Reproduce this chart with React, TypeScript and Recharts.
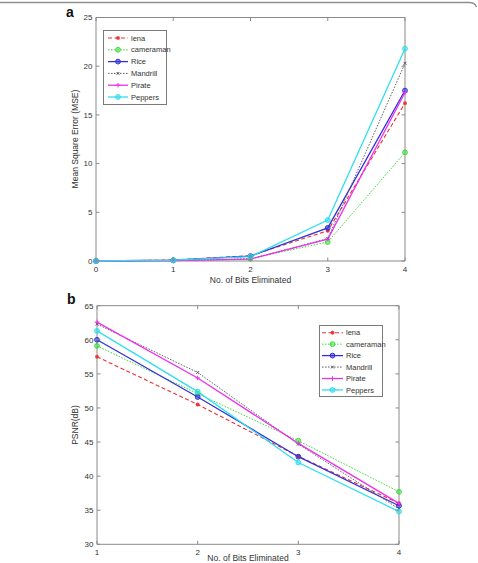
import React from 'react';
import { LineChart, Line, XAxis, YAxis, ReferenceArea, Legend } from 'recharts';

// (a) mean square error against number of eliminated bits
const bitsA = [0, 1, 2, 3, 4];
const mseLena = [0, 0.1, 0.55, 3.1, 16.2];
const mseCameraman = [0, 0.05, 0.25, 1.95, 11.15];
const mseRice = [0, 0.08, 0.5, 3.4, 17.5];
const mseMandrill = [0, 0.03, 0.2, 2.3, 20.3];
const msePirate = [0, 0.03, 0.2, 2.25, 17.3];
const msePeppers = [0, 0.08, 0.45, 4.2, 21.8];
const mseTicks = [0, 5, 10, 15, 20, 25];

// (b) PSNR against number of eliminated bits
const bitsB = [1, 2, 3, 4];
const psnrLena = [57.5, 50.5, 42.9, 36.0];
const psnrCameraman = [59.1, 52.1, 45.2, 37.7];
const psnrRice = [60.0, 51.6, 42.85, 35.65];
const psnrMandrill = [62.3, 55.2, 44.7, 35.2];
const psnrPirate = [62.6, 54.4, 44.8, 36.0];
const psnrPeppers = [61.3, 52.4, 42.0, 34.8];
const psnrTicks = [30, 35, 40, 45, 50, 55, 60, 65];

type Shape = 'star' | 'circle' | 'x' | 'plus';
type Style = { key: string; name: string; color: string; dash?: string; width: number; marker: Shape };

const STYLES: Style[] = [
  { key: 'lena', name: 'lena', color: '#ee3030', dash: '4 2.5', width: 1.1, marker: 'star' },
  { key: 'cameraman', name: 'cameraman', color: '#3fdc3f', dash: '1.6 1.4', width: 1.0, marker: 'circle' },
  { key: 'rice', name: 'Rice', color: '#3030dc', width: 1.3, marker: 'circle' },
  { key: 'mandrill', name: 'Mandrill', color: '#555555', dash: '1.6 1.4', width: 0.9, marker: 'x' },
  { key: 'pirate', name: 'Pirate', color: '#ee30ee', width: 1.3, marker: 'plus' },
  { key: 'peppers', name: 'Peppers', color: '#30def0', width: 1.3, marker: 'circle' },
];

function buildRows(xs: number[], cols: number[][]) {
  return xs.map((b, i) => {
    const row: Record<string, number> = { bits: b };
    STYLES.forEach((s, j) => {
      row[s.key] = cols[j][i];
    });
    return row;
  });
}

const rowsA = buildRows(bitsA, [mseLena, mseCameraman, mseRice, mseMandrill, msePirate, msePeppers]);
const rowsB = buildRows(bitsB, [psnrLena, psnrCameraman, psnrRice, psnrMandrill, psnrPirate, psnrPeppers]);

const FONT = '"Liberation Sans", Arial, sans-serif';
const FRAME = '#8a8a8a';
const TEXT = '#333333';

function Marker({ cx, cy, color, shape }: { cx: number; cy: number; color: string; shape: Shape }) {
  if (shape === 'circle') {
    return <circle cx={cx} cy={cy} r={2.4} stroke={color} strokeWidth={1} fill={color} fillOpacity={0.55} />;
  }
  if (shape === 'star') {
    const s = 2.0;
    return (
      <g stroke={color} strokeWidth={1.1}>
        <line x1={cx - s} y1={cy} x2={cx + s} y2={cy} />
        <line x1={cx} y1={cy - s} x2={cx} y2={cy + s} />
        <line x1={cx - s * 0.7} y1={cy - s * 0.7} x2={cx + s * 0.7} y2={cy + s * 0.7} />
        <line x1={cx - s * 0.7} y1={cy + s * 0.7} x2={cx + s * 0.7} y2={cy - s * 0.7} />
      </g>
    );
  }
  if (shape === 'x') {
    const s = 1.4;
    return (
      <g stroke={color} strokeWidth={1}>
        <line x1={cx - s} y1={cy - s} x2={cx + s} y2={cy + s} />
        <line x1={cx - s} y1={cy + s} x2={cx + s} y2={cy - s} />
      </g>
    );
  }
  const s = 2.3;
  return (
    <g stroke={color} strokeWidth={1}>
      <line x1={cx - s} y1={cy} x2={cx + s} y2={cy} />
      <line x1={cx} y1={cy - s} x2={cx} y2={cy + s} />
    </g>
  );
}

function makeDot(s: Style) {
  return (p: any) => {
    if (p.cx == null || p.cy == null) return <g key={`${s.key}-${p.index}`} />;
    return (
      <g key={`${s.key}-${p.index}`}>
        <Marker cx={p.cx} cy={p.cy} color={s.color} shape={s.marker} />
      </g>
    );
  };
}

type Geom = { width: number; height: number; top: number; left: number; right: number; bottom: number };
type LegendBox = { left: number; top: number; width: number; height: number; first: number; step: number; lineX1: number; lineX2: number; textX: number };

function LegendPanel({ box }: { box: LegendBox }) {
  return (
    <svg width={box.width + 1} height={box.height + 1} style={{ display: 'block', overflow: 'visible' }}>
      <rect x={0.5} y={0.5} width={box.width - 1} height={box.height - 1} fill="#fff" stroke="#7a7a7a" strokeWidth={1} />
      {STYLES.map((s, i) => {
        const y = box.first + i * box.step;
        const mid = (box.lineX1 + box.lineX2) / 2;
        return (
          <g key={s.key}>
            <line x1={box.lineX1} y1={y} x2={box.lineX2} y2={y} stroke={s.color} strokeWidth={s.width} strokeDasharray={s.dash} />
            <Marker cx={mid} cy={y} color={s.color} shape={s.marker} />
            <text x={box.textX} y={y + 2.6} fontSize={7.5} fontFamily={FONT} fill={TEXT}>
              {s.name}
            </text>
          </g>
        );
      })}
    </svg>
  );
}

type PanelProps = {
  rows: Record<string, number>[];
  xTicks: number[];
  yTicks: number[];
  xDomain: [number, number];
  yDomain: [number, number];
  geom: Geom;
  legend: LegendBox;
};

const Y_AXIS_W = 30;
const X_AXIS_H = 20;

function Panel({ rows, xTicks, yTicks, xDomain, yDomain, geom, legend }: PanelProps) {
  const { width, height, top, left, right, bottom } = geom;
  const margin = { top, left: left - Y_AXIS_W, right: width - right, bottom: height - bottom - X_AXIS_H };

  const renderXTick = (p: any) => {
    const { x, y, payload } = p;
    return (
      <g>
        <line x1={x} y1={y} x2={x} y2={y - 3.5} stroke={FRAME} strokeWidth={1} />
        <line x1={x} y1={top} x2={x} y2={top + 3.5} stroke={FRAME} strokeWidth={1} />
        <text x={x} y={y + 11} textAnchor="middle" fontSize={8} fontFamily={FONT} fill={TEXT}>
          {payload.value}
        </text>
      </g>
    );
  };

  const renderYTick = (p: any) => {
    const { x, y, payload } = p;
    return (
      <g>
        <line x1={x} y1={y} x2={x + 3.5} y2={y} stroke={FRAME} strokeWidth={1} />
        <line x1={right - 3.5} y1={y} x2={right} y2={y} stroke={FRAME} strokeWidth={1} />
        <text x={x - 3.5} y={y + 2.8} textAnchor="end" fontSize={8} fontFamily={FONT} fill={TEXT}>
          {payload.value}
        </text>
      </g>
    );
  };

  return (
    <LineChart width={width} height={height} data={rows} margin={margin}>
      <XAxis
        dataKey="bits"
        type="number"
        domain={xDomain}
        ticks={xTicks}
        interval={0}
        tickSize={0}
        tickMargin={0}
        tickLine={false}
        axisLine={false}
        height={X_AXIS_H}
        tick={renderXTick}
      />
      <YAxis
        type="number"
        domain={yDomain}
        ticks={yTicks}
        interval={0}
        tickSize={0}
        tickMargin={0}
        tickLine={false}
        axisLine={false}
        width={Y_AXIS_W}
        tick={renderYTick}
      />
      <ReferenceArea
        x1={xDomain[0]}
        x2={xDomain[1]}
        y1={yDomain[0]}
        y2={yDomain[1]}
        fill="#fff"
        fillOpacity={0}
        stroke={FRAME}
        strokeWidth={1}
        ifOverflow="visible"
      />
      {STYLES.map((s) => (
        <Line
          key={s.key}
          type="linear"
          dataKey={s.key}
          name={s.name}
          stroke={s.color}
          strokeWidth={s.width}
          strokeDasharray={s.dash}
          dot={makeDot(s)}
          activeDot={false}
          isAnimationActive={false}
        />
      ))}
      <Legend
        layout="vertical"
        align="center"
        verticalAlign="middle"
        content={() => <LegendPanel box={legend} />}
        wrapperStyle={{ left: legend.left, top: legend.top, width: legend.width + 1, height: legend.height + 1 }}
      />
    </LineChart>
  );
}

const GEOM_A: Geom = { width: 478, height: 290, top: 17.5, left: 96, right: 405, bottom: 261 };
const GEOM_B: Geom = { width: 478, height: 290, top: 15.7, left: 97, right: 399, bottom: 254.3 };

const LEGEND_A: LegendBox = { left: 103, top: 30, width: 64, height: 75, first: 8, step: 11.8, lineX1: 5, lineX2: 25, textX: 28 };
const LEGEND_B: LegendBox = { left: 319, top: 35, width: 64, height: 72, first: 7.7, step: 11.45, lineX1: 3, lineX2: 24, textX: 27 };

export default function App() {
  return (
    <div
      style={{
        position: 'absolute',
        left: 0,
        top: 0,
        width: 478,
        height: 563,
        overflow: 'hidden',
        background: '#fff',
        fontFamily: FONT,
      }}
    >
      <div style={{ position: 'absolute', left: 0, top: 0 }}>
        <Panel
          rows={rowsA}
          xTicks={bitsA}
          yTicks={mseTicks}
          xDomain={[0, 4]}
          yDomain={[0, 25]}
          geom={GEOM_A}
          legend={LEGEND_A}
        />
      </div>
      <div style={{ position: 'absolute', left: 0, top: 290 }}>
        <Panel
          rows={rowsB}
          xTicks={bitsB}
          yTicks={psnrTicks}
          xDomain={[1, 4]}
          yDomain={[30, 65]}
          geom={GEOM_B}
          legend={LEGEND_B}
        />
      </div>
      <svg width={478} height={563} style={{ position: 'absolute', left: 0, top: 0, pointerEvents: 'none' }}>
        <path d="M0 2.5 H469 Q475 2.5 476.5 7" fill="none" stroke="#8f8f8f" strokeWidth={1.3} />
        <text x={66} y={17} fontSize={14} fontWeight="bold" fontFamily={FONT} fill="#111">
          a
        </text>
        <text x={67} y={304} fontSize={14} fontWeight="bold" fontFamily={FONT} fill="#111">
          b
        </text>
        <text x={250.5} y={283} textAnchor="middle" fontSize={8.5} fontFamily={FONT} fill={TEXT}>
          No. of Bits Eliminated
        </text>
        <text x={248} y={561} textAnchor="middle" fontSize={8.5} fontFamily={FONT} fill={TEXT}>
          No. of Bits Eliminated
        </text>
        <text
          x={78}
          y={139}
          textAnchor="middle"
          fontSize={8.5}
          fontFamily={FONT}
          fill={TEXT}
          transform="rotate(-90 78 139)"
        >
          Mean Square Error (MSE)
        </text>
        <text
          x={78}
          y={425}
          textAnchor="middle"
          fontSize={8.5}
          fontFamily={FONT}
          fill={TEXT}
          transform="rotate(-90 78 425)"
        >
          PSNR(dB)
        </text>
      </svg>
    </div>
  );
}
